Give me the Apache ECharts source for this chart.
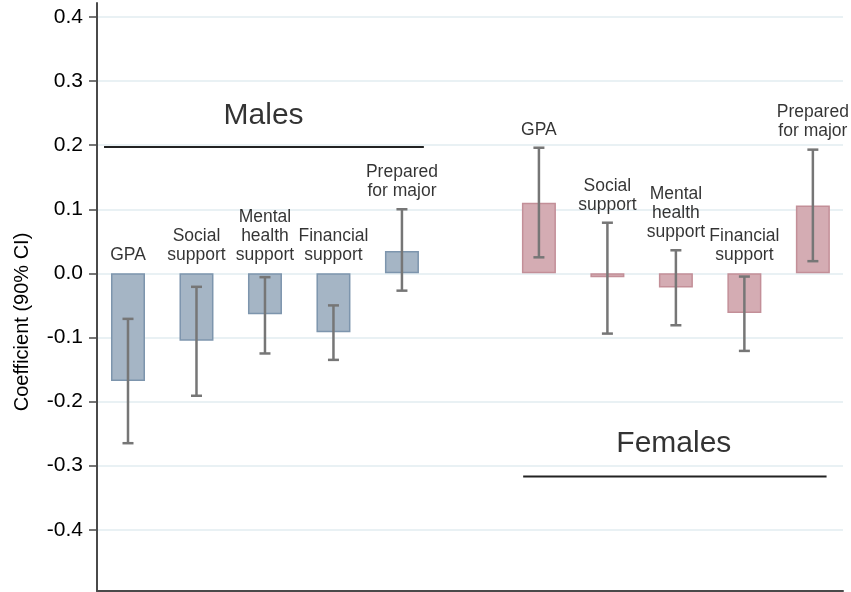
<!DOCTYPE html>
<html>
<head>
<meta charset="utf-8">
<script src="https://cdn.jsdelivr.net/npm/echarts@6/dist/echarts.min.js"></script>
<style>
  html, body { margin: 0; padding: 0; background: #ffffff; }
  #chart { width: 851px; height: 592px; }
</style>
</head>
<body>
<div id="chart"></div>
<script>
// Outcome labels (same order for both groups)
const categories = ['GPA', 'Social\nsupport', 'Mental\nhealth\nsupport', 'Financial\nsupport', 'Prepared\nfor major'];

// Slot positions on the x axis (slot 5 is the gap between groups)
const malePos = [0, 1, 2, 3, 4];
const femalePos = [6, 7, 8, 9, 10];

// Coefficients and 90% confidence bounds
const maleCoef = [-0.168, -0.105, -0.064, -0.092, 0.035];
const maleLow = [-0.265, -0.191, -0.125, -0.135, -0.027];
const maleHigh = [-0.071, -0.021, -0.006, -0.050, 0.100];

const femaleCoef = [0.110, -0.006, -0.022, -0.062, 0.106];
const femaleLow = [0.025, -0.094, -0.081, -0.121, 0.019];
const femaleHigh = [0.196, 0.079, 0.036, -0.005, 0.193];

// Group headings and the rules drawn beside them: [xFrom, xTo, y]
const groupTitles = ['Males', 'Females'];
const groupTitleAt = [[1.98, 0.246], [7.97, -0.266]];
const groupRules = [[-0.35, 4.32, 0.197], [5.77, 10.2, -0.317]];

// Axis extents
const X_MIN = -0.4526, X_MAX = 10.44;
const Y_MIN = -0.4956, Y_MAX = 0.4218;
const TICK_MIN = -0.4, TICK_MAX = 0.4, TICK_STEP = 0.1;

// Plot rectangle in pixels
const PLOT = { left: 97, right: 843, top: 3, bottom: 591 };
const W = 851, H = 592;

const FONT = "'Liberation Sans', Arial, Helvetica, sans-serif";
const TEXT = '#000000';
const MALE_FILL = '#a5b5c5', MALE_EDGE = '#7d95ad';
const FEMALE_FILL = '#d4acb3', FEMALE_EDGE = '#c38f98';
const CI_COLOR = '#767676';

const pxPerUnit = (PLOT.bottom - PLOT.top) / (Y_MAX - Y_MIN);
const tickGridTop = PLOT.top + (Y_MAX - TICK_MAX) * pxPerUnit;
const tickGridBottom = PLOT.bottom - (TICK_MIN - Y_MIN) * pxPerUnit;

const zip2 = (xs, ys) => xs.map((x, i) => [x, ys[i]]);

const ciData = malePos.map((x, i) => [x, maleLow[i], maleHigh[i]])
  .concat(femalePos.map((x, i) => [x, femaleLow[i], femaleHigh[i]]));

const labelData = malePos.map((x, i) => [x, Math.max(0, maleHigh[i]), categories[i]])
  .concat(femalePos.map((x, i) => [x, Math.max(0, femaleHigh[i]), categories[i]]));

const chart = echarts.init(document.getElementById('chart'), null, { renderer: 'canvas' });

const option = {
  animation: false,
  backgroundColor: '#ffffff',
  grid: [
    { left: PLOT.left, right: W - PLOT.right, top: PLOT.top, bottom: H - PLOT.bottom, containLabel: false },
    { left: PLOT.left, right: W - PLOT.right, top: tickGridTop, bottom: H - tickGridBottom, containLabel: false }
  ],
  xAxis: [
    {
      gridIndex: 0, type: 'value', min: X_MIN, max: X_MAX,
      axisLine: { show: true, onZero: false, lineStyle: { color: '#4a4a4a', width: 2 } },
      axisTick: { show: false }, axisLabel: { show: false }, splitLine: { show: false }
    },
    {
      gridIndex: 1, type: 'value', min: X_MIN, max: X_MAX, show: false
    }
  ],
  yAxis: [
    {
      gridIndex: 0, type: 'value', min: Y_MIN, max: Y_MAX,
      axisLine: { show: true, onZero: false, lineStyle: { color: '#4a4a4a', width: 2 } },
      axisTick: { show: false }, axisLabel: { show: false }, splitLine: { show: false }
    },
    {
      gridIndex: 1, type: 'value', min: TICK_MIN, max: TICK_MAX, interval: TICK_STEP,
      axisLine: { show: false, onZero: false },
      axisTick: { show: true, length: 8, lineStyle: { color: '#4a4a4a', width: 1.5 } },
      axisLabel: {
        margin: 14, color: TEXT, fontFamily: FONT, fontSize: 21,
        formatter: v => v.toFixed(1)
      },
      splitLine: { show: true, lineStyle: { color: '#e2edf1', width: 1.5 } }
    }
  ],
  graphic: [
    {
      type: 'text', x: 22, y: 322, rotation: Math.PI / 2,
      style: {
        text: 'Coefficient (90% CI)', fill: TEXT, font: '20px ' + FONT,
        textAlign: 'center', textVerticalAlign: 'middle'
      }
    }
  ],
  series: [
    {
      name: 'Males', type: 'bar', xAxisIndex: 0, yAxisIndex: 0,
      barWidth: 34, barGap: '-100%',
      itemStyle: { color: MALE_FILL, borderColor: MALE_EDGE, borderWidth: 1.5 },
      data: zip2(malePos, maleCoef), z: 2
    },
    {
      name: 'Females', type: 'bar', xAxisIndex: 0, yAxisIndex: 0,
      barWidth: 34, barGap: '-100%',
      itemStyle: { color: FEMALE_FILL, borderColor: FEMALE_EDGE, borderWidth: 1.5 },
      data: zip2(femalePos, femaleCoef), z: 2
    },
    {
      name: '90% CI', type: 'custom', xAxisIndex: 0, yAxisIndex: 0, z: 3,
      encode: { x: 0, y: [1, 2] },
      renderItem: (params, api) => {
        const x = api.value(0);
        const lo = api.coord([x, api.value(1)]);
        const hi = api.coord([x, api.value(2)]);
        const cap = 5.5;
        const style = { stroke: CI_COLOR, lineWidth: 2.5 };
        return {
          type: 'group',
          children: [
            { type: 'line', shape: { x1: lo[0], y1: lo[1], x2: hi[0], y2: hi[1] }, style },
            { type: 'line', shape: { x1: lo[0] - cap, y1: lo[1], x2: lo[0] + cap, y2: lo[1] }, style },
            { type: 'line', shape: { x1: hi[0] - cap, y1: hi[1], x2: hi[0] + cap, y2: hi[1] }, style }
          ]
        };
      },
      data: ciData
    },
    {
      name: 'labels', type: 'scatter', xAxisIndex: 0, yAxisIndex: 0, z: 4,
      symbolSize: 1, itemStyle: { color: 'rgba(0,0,0,0)' },
      label: {
        show: true, position: 'top', distance: 8,
        formatter: p => p.data[2],
        fontFamily: FONT, fontSize: 17.5, lineHeight: 19, color: TEXT, align: 'center'
      },
      data: labelData
    },
    {
      name: 'group titles', type: 'scatter', xAxisIndex: 0, yAxisIndex: 0, z: 4,
      symbolSize: 1, itemStyle: { color: 'rgba(0,0,0,0)' },
      label: {
        show: true, position: 'inside', formatter: p => p.data[2],
        fontFamily: FONT, fontSize: 30, color: TEXT
      },
      data: groupTitleAt.map((p, i) => [p[0], p[1], groupTitles[i]])
    },
    ...groupRules.map((r, i) => ({
      name: 'rule ' + groupTitles[i], type: 'line', xAxisIndex: 0, yAxisIndex: 0, z: 4,
      symbol: 'none', silent: true,
      lineStyle: { color: '#222', width: 2 },
      data: [[r[0], r[2]], [r[1], r[2]]]
    }))
  ]
};

chart.setOption(option);
</script>
</body>
</html>
